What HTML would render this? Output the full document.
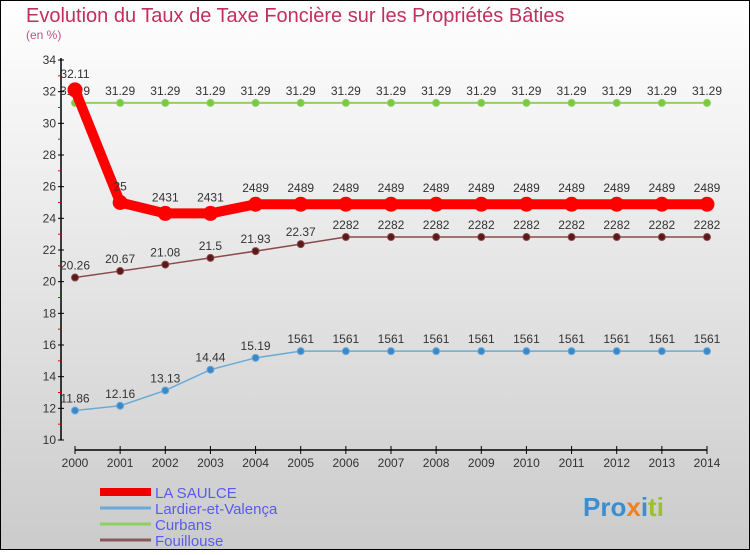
<!DOCTYPE html>
<html><head><meta charset="utf-8"><style>
html,body{margin:0;padding:0}
body{width:750px;height:550px;overflow:hidden;font-family:"Liberation Sans",sans-serif}
svg text{font-family:"Liberation Sans",sans-serif}
</style></head><body>
<svg id="chart" width="750" height="550" xmlns="http://www.w3.org/2000/svg">
<defs><linearGradient id="bg" x1="0" y1="0" x2="0" y2="1"><stop offset="0" stop-color="#ffffff"/><stop offset="1" stop-color="#cbcbcb"/></linearGradient></defs>
<rect x="0.5" y="0.5" width="749" height="549" fill="url(#bg)" stroke="#000"/>
<text x="26" y="22" font-size="20" fill="#c0305a">Evolution du Taux de Taxe Foncière sur les Propriétés Bâties</text>
<text x="26" y="39" font-size="12" fill="#c0508a">(en %)</text>
<g id="axes"></g>
<g id="series"></g>
<g id="legend"></g>
<text x="583" y="516" font-size="26" font-weight="bold"><tspan fill="#3a8fd0">Pro</tspan><tspan fill="#f08020">x</tspan><tspan fill="#3a8fd0">i</tspan><tspan fill="#9ac030">ti</tspan></text>
</svg>
<script>
const years=[2000,2001,2002,2003,2004,2005,2006,2007,2008,2009,2010,2011,2012,2013,2014];
const yTicks=[10,12,14,16,18,20,22,24,26,28,30,32,34];
const laSaulce=[32.11,25,24.31,24.31,24.89,24.89,24.89,24.89,24.89,24.89,24.89,24.89,24.89,24.89,24.89];
const lardier=[11.86,12.16,13.13,14.44,15.19,15.61,15.61,15.61,15.61,15.61,15.61,15.61,15.61,15.61,15.61];
const curbans=[31.29,31.29,31.29,31.29,31.29,31.29,31.29,31.29,31.29,31.29,31.29,31.29,31.29,31.29,31.29];
const fouillouse=[20.26,20.67,21.08,21.5,21.93,22.37,22.82,22.82,22.82,22.82,22.82,22.82,22.82,22.82,22.82];
const labelsSaulce=["32.11","25","2431","2431","2489","2489","2489","2489","2489","2489","2489","2489","2489","2489","2489"];
const labelsLardier=["11.86","12.16","13.13","14.44","15.19","1561","1561","1561","1561","1561","1561","1561","1561","1561","1561"];
const labelsCurbans=years.map(()=> "31.29");
const labelsFouil=["20.26","20.67","21.08","21.5","21.93","22.37","2282","2282","2282","2282","2282","2282","2282","2282","2282"];
const NS="http://www.w3.org/2000/svg";
const xS=i=>75+i*(707-75)/14;
const yS=v=>440-(v-10)*(380/24);
function mk(tag,attrs,parent){const e=document.createElementNS(NS,tag);for(const k in attrs)e.setAttribute(k,attrs[k]);parent.appendChild(e);return e;}
const axes=document.getElementById('axes');
let e=mk('line',{x1:61,y1:58,x2:61,y2:440,stroke:'#000','stroke-width':1.5},axes);


e=mk('line',{x1:75,y1:450,x2:707,y2:450,stroke:'#000','stroke-width':1.5},axes);


yTicks.forEach(t=>{
 mk('line',{x1:58,y1:yS(t),x2:64,y2:yS(t),stroke:'#000'},axes);
 if(t<34){mk('line',{x1:58,y1:yS(t+1),x2:61,y2:yS(t+1),stroke:'#e00'},axes);}
 const tx=mk('text',{x:56,y:yS(t)+4,'font-size':12,'text-anchor':'end',fill:'#333'},axes);tx.textContent=t;
 
 
});
years.forEach((yr,i)=>{
 mk('line',{x1:xS(i),y1:446,x2:xS(i),y2:454,stroke:'#000'},axes);
 const tx=mk('text',{x:xS(i),y:467,'font-size':12,'text-anchor':'middle',fill:'#333'},axes);tx.textContent=yr;
 
 
});
const ser=document.getElementById('series');
function draw(vals,labels,color,lw,r,mfill,name,dy){
 const g=mk('g',{},ser);
 
 
 const p=mk('polyline',{points:vals.map((v,i)=>xS(i)+','+yS(v)).join(' '),fill:'none',stroke:color,'stroke-width':lw,'stroke-linejoin':'round'},g);
 
 
 vals.forEach((v,i)=>{
  const c=mk('circle',{cx:xS(i),cy:yS(v),r:r,fill:mfill,stroke:color,'stroke-width':1},g);
  
  
  const t=mk('text',{x:xS(i),y:yS(v)+dy,'font-size':12,'text-anchor':'middle',fill:'#333'},g);t.textContent=labels[i];
  
  
 });
}
draw(curbans,labelsCurbans,'#8fd060',2,3.5,'#7ac943','curbans',-8);
draw(fouillouse,labelsFouil,'#8a4a4a',1.5,3.5,'#5a1a1a','fouillouse',-8);
draw(lardier,labelsLardier,'#6aaad8',1.5,3.5,'#3a88c8','lardier',-8);
draw(laSaulce,labelsSaulce,'#ff0000',10,7,'#ff0000','la-saulce',-12);
const lg=document.getElementById('legend');
const items=[['LA SAULCE','#ee0000',8],['Lardier-et-Valença','#6aaad8',3],['Curbans','#8fd060',3],['Fouillouse','#8a5a5a',3]];
items.forEach((it,i)=>{
 const y=492+i*16;
 const g=mk('g',{},lg);
 
 
 mk('line',{x1:100,y1:y,x2:151,y2:y,stroke:it[1],'stroke-width':it[2]},g);
 const t=mk('text',{x:155,y:y+6,'font-size':15,fill:'#5a5af0'},g);t.textContent=it[0];
});
</script>
</body></html>
